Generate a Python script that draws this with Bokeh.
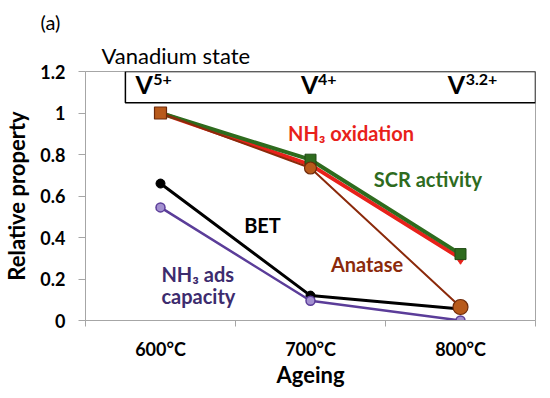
from bokeh.plotting import figure
from bokeh.models import FixedTicker, Title, ColumnDataSource
from bokeh.core.properties import value
from bokeh.embed import file_html
from bokeh.resources import INLINE

# ---- data ----
AGEING = ["600°C", "700°C", "800°C"]
X = [0, 1, 2]
SCR = [1.0, 0.775, 0.32]
NH3_OX = [1.0, 0.75, 0.30]
ANATASE = [1.0, 0.735, 0.065]
BET = [0.66, 0.12, 0.055]
NH3_ADS = [0.545, 0.095, 0.0]
Y_TICKS = [0, 0.2, 0.4, 0.6, 0.8, 1, 1.2]
Y_TICK_LABELS = ["0", "0.2", "0.4", "0.6", "0.8", "1", "1.2"]
V_STATES = ["5+", "4+", "3.2+"]

FONT = "Lato"
GRAY = "#A6A6A6"

p = figure(frame_width=450, frame_height=249, x_range=(-0.5, 2.5), y_range=(0, 1.2),
           output_backend="svg", toolbar_location=None, title=None,
           min_border_left=79, min_border_right=4, min_border_top=71, min_border_bottom=60)
p.xgrid.visible = False
p.ygrid.visible = False
p.outline_line_color = GRAY
p.background_fill_color = "white"
p.border_fill_color = "white"

# x axis
p.xaxis.ticker = FixedTicker(ticks=X, minor_ticks=[-0.5, 0.5, 1.5, 2.5])
p.xaxis.major_label_overrides = {x: lab for x, lab in zip(X, AGEING)}
p.xaxis.major_tick_out = 0
p.xaxis.major_tick_in = 0
p.xaxis.minor_tick_out = 6
p.xaxis.minor_tick_in = 0
p.xaxis.minor_tick_line_color = GRAY
p.xaxis.axis_line_color = GRAY
p.xaxis.major_label_standoff = 11
p.xaxis.axis_label = "Ageing"
p.xaxis.axis_label_standoff = -2

# y axis
p.yaxis.ticker = FixedTicker(ticks=Y_TICKS, minor_ticks=[])
p.yaxis.major_label_overrides = {t: lab for t, lab in zip(Y_TICKS, Y_TICK_LABELS)}
p.yaxis.major_tick_out = 7
p.yaxis.major_tick_in = 0
p.yaxis.major_tick_line_color = GRAY
p.yaxis.axis_line_color = GRAY
p.yaxis.major_label_standoff = 13
p.yaxis.axis_label = "Relative property"
p.yaxis.axis_label_standoff = 7

for ax in (p.xaxis, p.yaxis):
    ax.major_label_text_font = FONT
    ax.major_label_text_font_style = "bold"
    ax.major_label_text_font_size = "18px"
    ax.major_label_text_color = "black"
    ax.axis_label_text_font = FONT
    ax.axis_label_text_font_style = "bold"
    ax.axis_label_text_font_size = "22px"
    ax.axis_label_text_color = "black"

# ---- titles above the frame ----
p.add_layout(Title(text="Vanadium state", align="left", offset=16, standoff=5,
                   text_font=FONT, text_font_style="normal", text_font_size="22px",
                   text_color="black"), "above")
p.add_layout(Title(text="(a)", align="left", offset=-45, standoff=8,
                   text_font=FONT, text_font_style="normal", text_font_size="20px",
                   text_color="black"), "above")

# ---- vanadium state box ----
p.quad(left=-0.234, right=2.5, bottom=1.05, top=1.2, fill_color="white",
       line_color="black", line_width=1.5)
V_X = [-0.167, 0.937, 1.915]
SUP_X = [-0.048, 1.05, 2.035]
p.text(x=V_X, y=[1.142] * 3, text=["V"] * 3, text_font=value(FONT),
       text_font_style="bold", text_font_size="25px", text_color="black",
       text_baseline="middle", text_align="left")
p.text(x=SUP_X, y=[1.160] * 3, text=V_STATES, text_font=value(FONT),
       text_font_style="bold", text_font_size="16px", text_color="black",
       text_baseline="middle", text_align="left")

# ---- series ----
RED = "#E8211A"
GREEN = "#2E6B1E"
BROWN = "#8B2A0B"
PURPLE = "#5B3D99"

p.line(X, NH3_OX, line_color=RED, line_width=4)
p.scatter(X, NH3_OX, marker="diamond", size=12, fill_color=RED, line_color=RED)

p.line(X, SCR, line_color=GREEN, line_width=4)
p.scatter(X, SCR, marker="square", size=11, fill_color=GREEN, line_color="#1F4A14")

p.line(X, BET, line_color="black", line_width=3)
p.scatter(X, BET, marker="circle", size=9, fill_color="black", line_color="black")

p.line(X, NH3_ADS, line_color=PURPLE, line_width=2.5)
p.scatter(X, NH3_ADS, marker="circle", size=9, fill_color="#A390D0", line_color=PURPLE,
          line_width=1.5)

p.line(X, ANATASE, line_color=BROWN, line_width=2)
an_src = ColumnDataSource(dict(x=X, y=ANATASE, m=["square", "circle", "circle"],
                               s=[12, 12, 15]))
p.scatter("x", "y", marker="m", size="s", source=an_src, fill_color="#B85A1B",
          line_color="#6E2A0A", line_width=1.2)

# ---- series labels ----
def lab(x, y, txt, color):
    p.text(x=[x], y=[y], text=[txt], text_font=value(FONT), text_font_style="bold",
           text_font_size="20px", text_color=color, text_baseline="middle",
           text_align="left")

lab(0.850, 0.904, "NH₃ oxidation", RED)
lab(1.422, 0.680, "SCR activity", GREEN)
lab(0.558, 0.458, "BET", "black")
lab(1.136, 0.270, "Anatase", BROWN)
lab(0.006, 0.224, "NH₃ ads", "#3D2C6E")
lab(0.006, 0.118, "capacity", "#3D2C6E")

open("out.html", "w").write(file_html(p, INLINE))
